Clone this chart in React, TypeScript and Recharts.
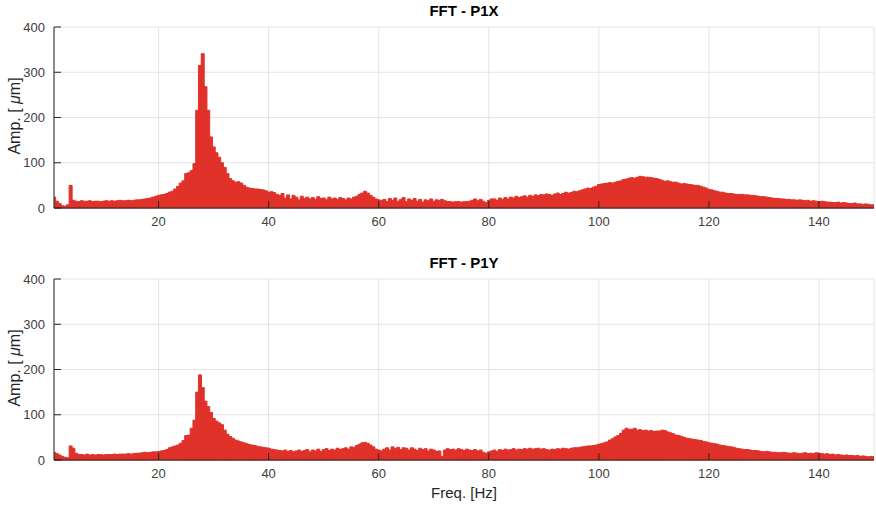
import React from 'react';
import { BarChart, Bar, XAxis, YAxis, CartesianGrid } from 'recharts';

// ── Spectrum bins: 1 Hz .. 150 Hz, 0.5 Hz apart ───────────────────────────────

const FREQ_START = 1;
const FREQ_STEP = 0.5;
const X_TICKS = [20, 40, 60, 80, 100, 120, 140];
const Y_TICKS = [0, 100, 200, 300, 400];

// amplitude [µm], one row = 5 Hz
const P1X = [
  24, 15, 10, 5, 4, 7, 50, 17, 15, 14,
  16, 15, 15, 16, 14, 15, 15, 14, 15, 16,
  15, 16, 15, 16, 17, 16, 16, 17, 16, 17,
  18, 18, 19, 20, 21, 22, 24, 26, 28, 29,
  30, 32, 35, 37, 42, 48, 55, 60, 76, 78,
  83, 98, 216, 315, 341, 268, 216, 157, 135, 122,
  112, 100, 90, 76, 65, 60, 57, 58, 55, 50,
  46, 44, 43, 42, 42, 41, 40, 38, 35, 36,
  34, 30, 28, 32, 22, 29, 20, 28, 24, 18,
  26, 21, 24, 20, 23, 19, 25, 21, 22, 18,
  24, 20, 22, 19, 23, 21, 18, 22, 20, 24,
  26, 30, 33, 37, 33, 28, 24, 20, 18, 16,
  19, 14, 21, 17, 22, 15, 19, 23, 14, 20,
  17, 21, 15, 19, 13, 18, 16, 20, 15, 18,
  17, 19, 16, 14, 14, 13, 14, 14, 13, 14,
  14, 15, 17, 20, 16, 19, 15, 12, 17, 20,
  20, 17, 22, 19, 23, 20, 24, 22, 26, 23,
  25, 27, 24, 28, 26, 29, 27, 30, 29, 31,
  30, 28, 31, 33, 30, 32, 35, 33, 34, 37,
  36, 38, 40, 42, 44, 43, 46, 48, 52, 53,
  54, 55, 56, 55, 57, 59, 60, 63, 64, 66,
  67, 66, 68, 70, 69, 68, 68, 67, 66, 65,
  63, 61, 59, 60, 58, 57, 57, 55, 53, 54,
  53, 52, 51, 50, 50, 48, 46, 44, 41, 40,
  38, 37, 35, 35, 33, 32, 32, 31, 30, 30,
  30, 29, 29, 28, 28, 27, 26, 25, 25, 24,
  23, 22, 21, 21, 20, 20, 19, 19, 18, 18,
  17, 18, 17, 16, 17, 15, 16, 15, 14, 15,
  14, 13, 13, 12, 12, 13, 11, 12, 11, 10,
  10, 11, 9, 9, 8, 9, 8, 7, 7,
];

const P1Y = [
  17, 14, 11, 8, 6, 5, 31, 26, 15, 12,
  12, 11, 13, 11, 12, 11, 12, 12, 11, 12,
  12, 12, 13, 12, 13, 13, 13, 14, 13, 14,
  15, 15, 16, 17, 16, 17, 18, 18, 19, 20,
  21, 23, 27, 29, 31, 33, 37, 43, 54, 55,
  70, 88, 150, 188, 160, 130, 118, 105, 92, 86,
  82, 78, 66, 57, 52, 48, 44, 42, 40, 38,
  36, 34, 33, 32, 30, 29, 28, 27, 26, 24,
  23, 22, 21, 20, 22, 19, 21, 18, 20, 22,
  19, 21, 23, 18, 22, 20, 24, 19, 23, 25,
  21, 24, 22, 26, 23, 25, 27, 24, 29, 28,
  32, 35, 38, 39, 37, 33, 29, 24, 22, 20,
  24, 27, 22, 29, 25, 28, 23, 27, 26, 22,
  27, 24, 21, 26, 23, 25, 20, 24, 22, 19,
  20, 8, 22, 25, 23, 24, 22, 25, 23, 21,
  24, 22, 21, 23, 20, 22, 17, 15, 18, 20,
  22, 19, 23, 21, 24, 22, 23, 25, 22, 24,
  23, 25, 24, 26, 24, 25, 26, 24, 25, 23,
  22, 24, 23, 25, 24, 26, 25, 24, 26, 27,
  27, 28, 29, 30, 31, 31, 32, 33, 35, 36,
  38, 40, 44, 47, 51, 54, 59, 66, 70, 68,
  68, 70, 66, 67, 65, 66, 64, 65, 63, 64,
  64, 66, 65, 62, 60, 58, 55, 54, 52, 50,
  48, 47, 46, 45, 44, 43, 41, 40, 38, 37,
  36, 35, 33, 32, 31, 30, 29, 28, 26, 25,
  24, 23, 23, 22, 21, 21, 20, 19, 18, 19,
  18, 17, 17, 16, 16, 17, 16, 15, 15, 16,
  15, 14, 15, 16, 14, 15, 14, 16, 15, 14,
  13, 14, 12, 13, 11, 12, 11, 10, 11, 10,
  10, 9, 10, 8, 9, 8, 7, 8, 7,
];

// ── Style constants ───────────────────────────────────────────────────────────

const FONT = '"Liberation Sans", Arial, Helvetica, sans-serif';
const BAR_COLOUR = '#E0322A';
const AXIS_COLOUR = '#262626';
const GRID_COLOUR = '#E4E4E4';
const TICK_STYLE = { fill: '#404040', fontSize: 13 };

const toRows = (values: number[]) =>
  values.map((amp, i) => ({ freq: FREQ_START + i * FREQ_STEP, amp }));

// ── One FFT panel ─────────────────────────────────────────────────────────────

function Panel({ title, values, top }: { title: string; values: number[]; top: number }) {
  return (
    <div style={{ position: 'absolute', left: 0, top, width: 876, height: 250 }}>
      <div
        style={{
          position: 'absolute',
          left: 54,
          width: 820,
          top: 2,
          textAlign: 'center',
          fontWeight: 'bold',
          fontSize: 15,
          color: '#000',
        }}
      >
        {title}
      </div>
      <div
        style={{
          position: 'absolute',
          left: 15,
          top: 116,
          transform: 'translate(-50%, -50%) rotate(-90deg)',
          whiteSpace: 'nowrap',
          fontSize: 16,
          color: '#262626',
        }}
      >
        Amp. [ <i>μ</i>m]
      </div>
      <BarChart
        width={876}
        height={250}
        data={toRows(values)}
        margin={{ top: 27, right: 2, bottom: 12, left: 14 }}
        barCategoryGap={0}
        barGap={0}
      >
        <CartesianGrid stroke={GRID_COLOUR} />
        <XAxis
          dataKey="freq"
          type="number"
          domain={[1, 150]}
          ticks={X_TICKS}
          interval={0}
          height={30}
          stroke={AXIS_COLOUR}
          tickSize={-7}
          tickMargin={16}
          tick={TICK_STYLE}
          allowDataOverflow
        />
        <XAxis
          xAxisId="top"
          orientation="top"
          dataKey="freq"
          type="number"
          domain={[1, 150]}
          ticks={X_TICKS}
          interval={0}
          height={0}
          stroke={AXIS_COLOUR}
          tickSize={-7}
          tick={false}
          allowDataOverflow
        />
        <YAxis
          type="number"
          domain={[0, 400]}
          ticks={Y_TICKS}
          interval={0}
          width={40}
          stroke={AXIS_COLOUR}
          tickSize={-7}
          tickMargin={16}
          tick={TICK_STYLE}
        />
        <YAxis
          yAxisId="right"
          orientation="right"
          type="number"
          domain={[0, 400]}
          ticks={Y_TICKS}
          interval={0}
          width={0}
          stroke={AXIS_COLOUR}
          tickSize={-7}
          tick={false}
        />
        <Bar
          dataKey="amp"
          fill={BAR_COLOUR}
          stroke={BAR_COLOUR}
          strokeWidth={1}
          isAnimationActive={false}
        />
      </BarChart>
    </div>
  );
}

export default function App() {
  return (
    <div
      style={{
        position: 'absolute',
        left: 0,
        top: 0,
        width: 876,
        height: 507,
        background: '#fff',
        fontFamily: FONT,
      }}
    >
      <Panel title="FFT - P1X" values={P1X} top={0} />
      <Panel title="FFT - P1Y" values={P1Y} top={252} />
      <div
        style={{
          position: 'absolute',
          left: 54,
          width: 820,
          top: 484,
          textAlign: 'center',
          fontSize: 15,
          color: '#262626',
        }}
      >
        Freq. [Hz]
      </div>
    </div>
  );
}
